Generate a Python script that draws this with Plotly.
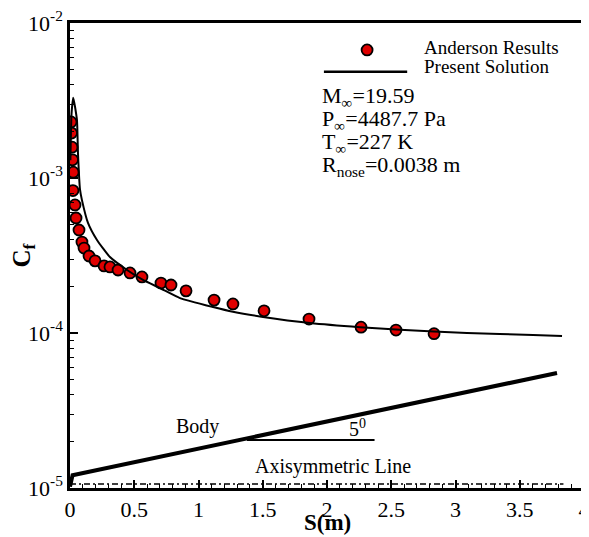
import plotly.graph_objects as go

# Anderson results (S in m, Cf)
anderson_s = [0.008, 0.012, 0.016, 0.020, 0.025, 0.023, 0.039, 0.047, 0.070, 0.093,
              0.109, 0.148, 0.195, 0.265, 0.311, 0.374, 0.467, 0.560, 0.708, 0.786,
              0.903, 1.121, 1.268, 1.510, 1.860, 2.265, 2.537, 2.833]
anderson_cf = [2.30e-3, 1.95e-3, 1.58e-3, 1.31e-3, 1.09e-3, 8.3e-4, 6.7e-4, 5.52e-4, 4.62e-4, 3.86e-4,
               3.53e-4, 3.14e-4, 2.92e-4, 2.71e-4, 2.67e-4, 2.55e-4, 2.44e-4, 2.30e-4, 2.10e-4, 2.04e-4,
               1.87e-4, 1.63e-4, 1.54e-4, 1.39e-4, 1.23e-4, 1.09e-4, 1.045e-4, 9.9e-5]

# Present solution
present_s = [0.003, 0.012, 0.025, 0.054, 0.062, 0.078, 0.093, 0.140, 0.210, 0.311,
             0.444, 0.568, 0.700, 0.856, 1.113, 1.268, 1.502, 1.868, 2.257, 2.568,
             3.089, 3.603, 3.829]
present_cf = [1.3e-3, 2.6e-3, 3.3e-3, 2.37e-3, 1.45e-3, 8.4e-4, 7.2e-4, 5.13e-4, 3.98e-4, 3.09e-4,
              2.55e-4, 2.20e-4, 1.95e-4, 1.68e-4, 1.47e-4, 1.37e-4, 1.27e-4, 1.16e-4, 1.09e-4, 1.05e-4,
              1.00e-4, 9.7e-5, 9.56e-5]

# Body outline and reference lines
body_s = [0.0, 0.02, 3.79]
body_cf = [1.02e-5, 1.21e-5, 5.52e-5]
angle_s = [1.377, 2.37]
angle_cf = [2.04e-5, 2.04e-5]
axis_s = [0.0, 3.84]
axis_cf = [1.06e-5, 1.06e-5]

y_tickvals = [1e-5, 1e-4, 1e-3, 1e-2]
y_ticktext = ["10<sup>-5</sup>", "10<sup>-4</sup>", "10<sup>-3</sup>", "10<sup>-2</sup>"]
x_tickvals = [0, 0.5, 1, 1.5, 2, 2.5, 3, 3.5, 4]
x_ticktext = ["0", "0.5", "1", "1.5", "2", "2.5", "3", "3.5", "4"]

FONT = "'Liberation Serif', 'Times New Roman', Times, serif"

fig = go.Figure()
fig.add_trace(go.Scatter(x=axis_s, y=axis_cf, mode="lines",
                         line=dict(color="black", width=1.5, dash="6px,3px,2px,3px"), showlegend=False))
fig.add_trace(go.Scatter(x=body_s, y=body_cf, mode="lines",
                         line=dict(color="black", width=4), showlegend=False))
fig.add_trace(go.Scatter(x=angle_s, y=angle_cf, mode="lines",
                         line=dict(color="black", width=2), showlegend=False))
fig.add_trace(go.Scatter(x=anderson_s, y=anderson_cf, mode="markers",
                         marker=dict(color="#e00000", size=11, line=dict(color="black", width=1.8)),
                         showlegend=False))
fig.add_trace(go.Scatter(x=present_s, y=present_cf, mode="lines",
                         line=dict(color="black", width=2, shape="spline", smoothing=0.5),
                         showlegend=False))

# manual legend keys
fig.add_shape(type="circle", xref="paper", yref="paper",
              x0=0.578 - 5.5/514, x1=0.578 + 5.5/514, y0=0.942 - 5.5/465, y1=0.942 + 5.5/465,
              fillcolor="#e00000", line=dict(color="black", width=1.8))
fig.add_shape(type="line", xref="paper", yref="paper", x0=0.494, x1=0.656, y0=0.895, y1=0.895,
              line=dict(color="black", width=2.5))

ann_font = dict(family=FONT, size=19, color="black")
fig.add_annotation(x=(422 - 70) / 514, y=(488 - 48) / 465, xref="paper", yref="paper",
                   xanchor="left", yanchor="middle",
                   text="Anderson Results", showarrow=False, font=ann_font)
fig.add_annotation(x=(422 - 70) / 514, y=(488 - 67) / 465, xref="paper", yref="paper",
                   xanchor="left", yanchor="middle",
                   text="Present Solution", showarrow=False, font=ann_font)

par_font = dict(family=FONT, size=22, color="black")
params = ["M<sub>∞</sub>=19.59", "P<sub>∞</sub>=4487.7 Pa", "T<sub>∞</sub>=227 K",
          "R<sub>nose</sub>=0.0038 m"]
par_y = [97, 120, 143, 166]
for t, py in zip(params, par_y):
    fig.add_annotation(x=(320 - 70) / 514, y=(488 - py) / 465, xref="paper", yref="paper",
                       xanchor="left", yanchor="middle", text=t, showarrow=False, font=par_font)

lab_font = dict(family=FONT, size=20, color="black")
fig.add_annotation(x=0.99, y=-4.60, text="Body", showarrow=False, font=lab_font)
fig.add_annotation(x=2.24, y=-4.615, text="5<sup>0</sup>", showarrow=False, font=lab_font)
fig.add_annotation(x=2.05, y=-4.86, text="Axisymmetric Line", showarrow=False, font=lab_font)

# x-axis title as annotation (placed close below tick labels)
fig.add_annotation(x=0.5, y=(488 - 522) / 465, xref="paper", yref="paper",
                   xanchor="center", yanchor="middle", text="<b>S(m)</b>", showarrow=False,
                   font=dict(family=FONT, size=23, color="black"))

fig.update_xaxes(range=[0, 4], tickvals=x_tickvals, ticktext=x_ticktext, automargin=False,
                 ticklabeloverflow="allow",
                 ticks="inside", ticklen=8, tickwidth=2, tickcolor="black",
                 minor=dict(ticks="inside", ticklen=4, tickwidth=1, tickcolor="black", dtick=0.1),
                 showline=True, linecolor="black", linewidth=2.5, mirror=True,
                 showgrid=False, zeroline=False,
                 tickfont=dict(family=FONT, size=22, color="black"))
fig.update_yaxes(type="log", range=[-5, -2], tickvals=y_tickvals, ticktext=y_ticktext, automargin=False,
                 ticklabeloverflow="allow",
                 ticks="inside", ticklen=8, tickwidth=2, tickcolor="black",
                 minor=dict(ticks="inside", ticklen=4, tickwidth=1, tickcolor="black",
                            tickvals=[m * 10**e for e in (-5, -4, -3) for m in range(2, 10)]),
                 showline=True, linecolor="black", linewidth=2.5, mirror=True,
                 showgrid=False, zeroline=False,
                 tickfont=dict(family=FONT, size=22, color="black"),
                 title=dict(text="<b>C<sub>f</sub></b>", font=dict(family=FONT, size=25, color="black"),
                            standoff=4))

# page body has an 8px default margin; compensate so the plot area lands at x 70-584, y 23-488
fig.update_layout(width=581, height=529, margin=dict(l=62, r=5, t=15, b=49),
                  paper_bgcolor="white", plot_bgcolor="white", showlegend=False)

fig.write_html("out.html")
